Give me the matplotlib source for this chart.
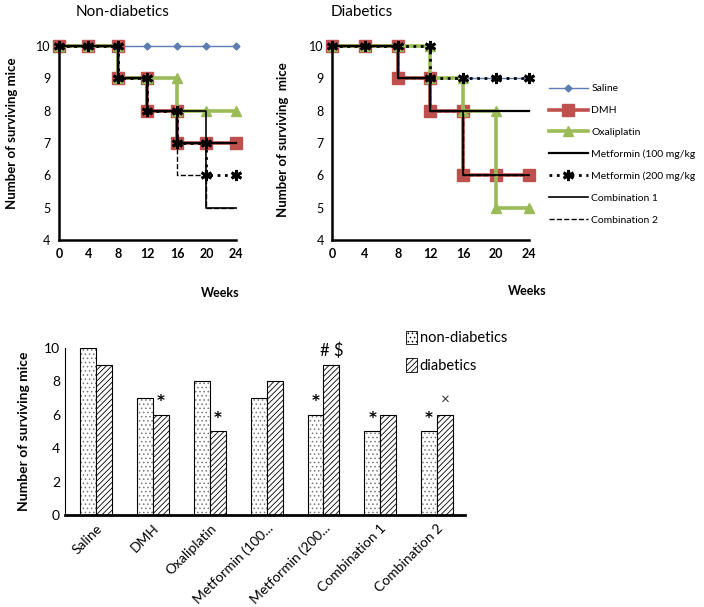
"""
Survival of mice: Kaplan-Meier style step curves + bar summary
"""
import matplotlib
matplotlib.use("Agg")
import matplotlib.pyplot as plt
from matplotlib.patches import Patch
import numpy as np

plt.rcParams['font.family'] = ['Lato', 'DejaVu Sans']
plt.rcParams['hatch.linewidth'] = 0.6

weeks = [0, 4, 8, 12, 16, 20, 24]
groups = ["Saline", "DMH", "Oxaliplatin", "Metformin (100 mg/kg", "Metformin (200 mg/kg",
          "Combination 1", "Combination 2"]

# surviving mice at each week
non_diab = {
    "Saline": [10, 10, 10, 10, 10, 10, 10],
    "DMH": [10, 10, 9, 8, 7, 7, 7],
    "Oxaliplatin": [10, 10, 9, 9, 8, 8, 8],
    "Metformin (100 mg/kg": [10, 10, 9, 8, 7, 7, 7],
    "Metformin (200 mg/kg": [10, 10, 9, 8, 7, 6, 6],
    "Combination 1": [10, 10, 9, 8, 8, 5, 5],
    "Combination 2": [10, 10, 9, 8, 6, 5, 5],
}
diab = {
    "Saline": [10, 10, 10, 9, 9, 9, 9],
    "DMH": [10, 10, 9, 8, 6, 6, 6],
    "Oxaliplatin": [10, 10, 10, 9, 8, 5, 5],
    "Metformin (100 mg/kg": [10, 10, 9, 8, 8, 8, 8],
    "Metformin (200 mg/kg": [10, 10, 10, 9, 9, 9, 9],
    "Combination 1": [10, 10, 9, 8, 6, 6, 6],
    "Combination 2": [10, 10, 9, 8, 6, 6, 6],
}

bar_labels = ["Saline", "DMH", "Oxaliplatin", "Metformin (100...", "Metformin (200...",
              "Combination 1", "Combination 2"]
bar_nd = [10, 7, 8, 7, 6, 5, 5]
bar_d = [9, 6, 5, 8, 9, 6, 6]
marks_nd = ["", "", "", "", "*", "*", "*"]
marks_d = ["", "*", "*", "", "# $", "", "×"]

styles = {
    "Saline": dict(color="#5B7DB3", lw=1.0, marker="D", ms=3.5, ls="-"),
    "DMH": dict(color="#C0504D", lw=2.6, marker="s", ms=8, ls="-"),
    "Oxaliplatin": dict(color="#9BBB59", lw=2.6, marker="^", ms=7, ls="-"),
    "Metformin (100 mg/kg": dict(color="black", lw=1.6, marker=None, ls="-"),
    "Metformin (200 mg/kg": dict(color="black", lw=2.0, marker=(6, 2, 0), ms=8, mew=2, ls=":"),
    "Combination 1": dict(color="black", lw=1.2, marker=None, ls="-"),
    "Combination 2": dict(color="black", lw=1.0, marker=None, ls="--"),
}


def step_points(x, y):
    # add the point just before each drop so the curve is a step
    xs, ys = [x[0]], [y[0]]
    for i in range(1, len(x)):
        if y[i] != y[i - 1]:
            xs.append(x[i]); ys.append(y[i - 1])
        xs.append(x[i]); ys.append(y[i])
    return xs, ys


fig = plt.figure(figsize=(7.04, 6.07), dpi=100)
ax1 = fig.add_axes([0.0838, 0.6046, 0.2514, 0.3196])
ax2 = fig.add_axes([0.4716, 0.6046, 0.2798, 0.3196])

for ax, data in [(ax1, non_diab), (ax2, diab)]:
    for g in groups:
        xs, ys = step_points(weeks, data[g])
        ax.plot(xs, ys, label=g, clip_on=False, **styles[g])
    ax.set_xlim(0, 24)
    ax.set_ylim(4, 10)
    ax.set_xticks(weeks)
    ax.set_yticks(range(4, 11))
    ax.tick_params(length=0, labelsize=9, pad=6)
    for t in ax.get_xticklabels():
        t.set_fontweight('bold')
    for s in ['top', 'right']:
        ax.spines[s].set_visible(False)
    for s in ['left', 'bottom']:
        ax.spines[s].set_linewidth(1.8)

fig.text(0.017, 0.78, "Number of surviving mice", rotation=90, ha='center', va='center',
         fontsize=9.5, fontweight='bold')
fig.text(0.402, 0.77, "Number of surviving  mice", rotation=90, ha='center', va='center',
         fontsize=9.5, fontweight='bold')
fig.text(0.107, 0.98, "Non-diabetics", fontsize=11, ha='left', va='center')
fig.text(0.469, 0.98, "Diabetics", fontsize=11, ha='left', va='center')
fig.text(0.313, 0.517, "Weeks", fontsize=9, fontweight='bold', ha='center', va='center')
fig.text(0.749, 0.521, "Weeks", fontsize=9, fontweight='bold', ha='center', va='center')

h, l = ax2.get_legend_handles_labels()
fig.legend(h, l, loc='upper left', bbox_to_anchor=(0.772, 0.87), frameon=False,
           fontsize=7.5, handlelength=3.8, labelspacing=1.2, borderpad=0, handletextpad=0.3,
           numpoints=1)

# bar chart
ax3 = fig.add_axes([0.0923, 0.1516, 0.568, 0.2751])
x = np.arange(len(bar_labels))
w = 0.28
ax3.bar(x - w / 2, bar_nd, w, color='white', edgecolor='#777777', hatch='....', lw=0)
ax3.bar(x - w / 2, bar_nd, w, color='none', edgecolor='black', lw=0.8)
ax3.bar(x + w / 2, bar_d, w, color='white', edgecolor='black', hatch='//////', lw=0.8)
for i in range(len(x)):
    if marks_nd[i]:
        ax3.text(x[i] - w / 2, bar_nd[i] + 0.8, marks_nd[i], ha='center', va='center',
                 fontsize=11, fontweight='bold', family='DejaVu Sans')
    if marks_d[i] == "*":
        ax3.text(x[i] + w / 2, bar_d[i] + 0.8, "*", ha='center', va='center',
                 fontsize=11, fontweight='bold', family='DejaVu Sans')
    elif marks_d[i] == "# $":
        ax3.text(x[i] + w / 2, bar_d[i] + 0.85, "# $", ha='center', va='center', fontsize=12)
    elif marks_d[i]:
        ax3.text(x[i] + w / 2, bar_d[i] + 0.9, marks_d[i], ha='center', va='center',
                 fontsize=11, color='#333333')
ax3.set_xlim(-0.55, 6.49)
ax3.set_ylim(0, 10)
ax3.set_yticks(range(0, 11, 2))
ax3.set_xticks(x)
ax3.set_xticklabels(bar_labels, rotation=45, ha='right', rotation_mode='anchor', fontsize=9.5)
ax3.tick_params(length=0, labelsize=10)
ax3.tick_params(axis='x', pad=5)
for s in ['top', 'right']:
    ax3.spines[s].set_visible(False)
ax3.spines['bottom'].set_linewidth(2)
ax3.spines['left'].set_linewidth(0.8)
ax3.set_ylabel("Number of surviving mice", fontsize=10, fontweight='bold', labelpad=10)

leg_h = [Patch(facecolor='white', edgecolor='black', hatch='....', lw=0.6),
         Patch(facecolor='white', edgecolor='black', hatch='//////', lw=0.6)]
fig.legend(leg_h, ['non-diabetics', 'diabetics'], loc='upper left',
           bbox_to_anchor=(0.567, 0.467), frameon=False, fontsize=10.5,
           handlelength=0.7, handleheight=1.0, handletextpad=0.2, labelspacing=0.9,
           borderpad=0)

plt.savefig("out.png", dpi=100)
